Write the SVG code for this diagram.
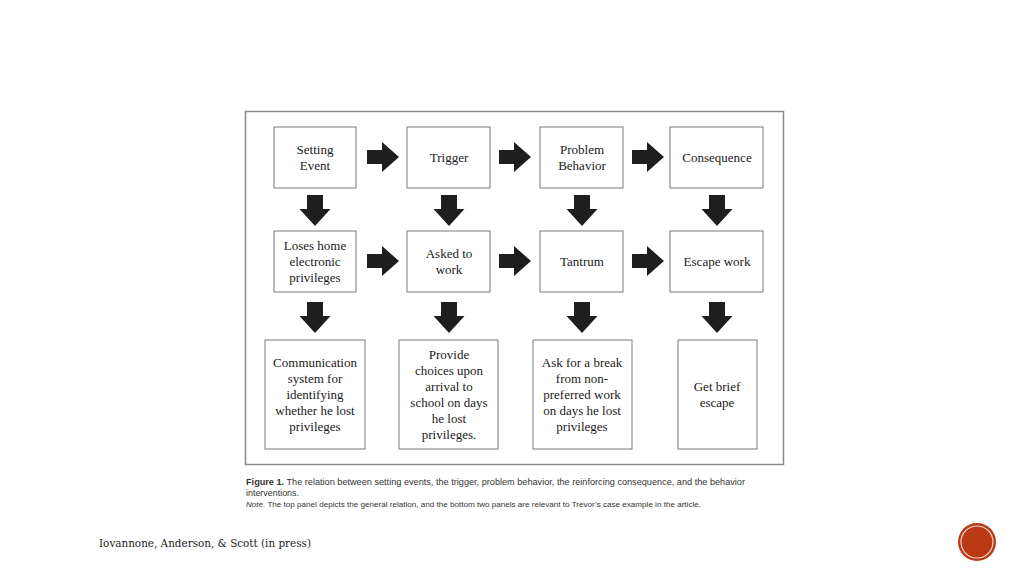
<svg xmlns="http://www.w3.org/2000/svg" width="1024" height="576" viewBox="0 0 1024 576">
<defs>
<style>
.box{fill:#fff;stroke:#7a7a7a;stroke-width:1}
.t{font-family:"Liberation Serif","Times New Roman",serif;font-size:13px;fill:#1a1a1a;text-anchor:middle}
.arr{fill:#1e1e1e}
.cap{font-family:"Liberation Sans",Arial,sans-serif;fill:#333}
</style>
<path id="rh" d="M0,-7 H15 V-15 L32,0 L15,15 V7 H0 Z"/>
<path id="dn" d="M-8,0 H8 V14 H15.5 L0,31 L-15.5,14 H-8 Z"/>
</defs>
<rect width="1024" height="576" fill="#fff"/>
<rect x="245.5" y="111.5" width="538" height="353" fill="#fff" stroke="#8a8a8a" stroke-width="1.5"/>

<g id="connectors" class="arr">
<use href="#rh" x="367" y="157"/>
<use href="#rh" x="499" y="157"/>
<use href="#rh" x="632" y="157"/>
<use href="#rh" x="367" y="261"/>
<use href="#rh" x="499" y="261"/>
<use href="#rh" x="632" y="261"/>
<use href="#dn" x="315" y="195"/>
<use href="#dn" x="449" y="195"/>
<use href="#dn" x="582" y="195"/>
<use href="#dn" x="717" y="195"/>
<use href="#dn" x="315" y="302"/>
<use href="#dn" x="449" y="302"/>
<use href="#dn" x="582" y="302"/>
<use href="#dn" x="717" y="302"/>
</g>

<g id="setting-event"><rect class="box" x="274" y="127" width="82" height="61"/>
<text class="t"><tspan x="315" y="153.5">Setting</tspan><tspan x="315" y="169.5">Event</tspan></text></g>
<g id="trigger"><rect class="box" x="407" y="127" width="83" height="61"/>
<text class="t" x="449" y="161.5">Trigger</text></g>
<g id="problem-behavior"><rect class="box" x="540" y="127" width="83" height="61"/>
<text class="t"><tspan x="582" y="153.5">Problem</tspan><tspan x="582" y="169.5">Behavior</tspan></text></g>
<g id="consequence"><rect class="box" x="670" y="127" width="93" height="61"/>
<text class="t" x="717" y="161.5">Consequence</text></g>

<g id="loses-home"><rect class="box" x="274" y="231" width="82" height="61"/>
<text class="t"><tspan x="315" y="249.5">Loses home</tspan><tspan x="315" y="265.5">electronic</tspan><tspan x="315" y="281.5">privileges</tspan></text></g>
<g id="asked-to-work"><rect class="box" x="407" y="231" width="83" height="61"/>
<text class="t"><tspan x="449" y="257.5">Asked to</tspan><tspan x="449" y="273.5">work</tspan></text></g>
<g id="tantrum"><rect class="box" x="540" y="231" width="83" height="61"/>
<text class="t" x="582" y="265.5">Tantrum</text></g>
<g id="escape-work"><rect class="box" x="670" y="231" width="93" height="61"/>
<text class="t" x="717" y="265.5">Escape work</text></g>

<g id="communication"><rect class="box" x="265" y="340" width="100" height="109"/>
<text class="t"><tspan x="315" y="366.5">Communication</tspan><tspan x="315" y="382.5">system for</tspan><tspan x="315" y="398.5">identifying</tspan><tspan x="315" y="414.5">whether he lost</tspan><tspan x="315" y="430.5">privileges</tspan></text></g>
<g id="provide-choices"><rect class="box" x="399" y="340" width="99" height="109"/>
<text class="t"><tspan x="449" y="358.5">Provide</tspan><tspan x="449" y="374.5">choices upon</tspan><tspan x="449" y="390.5">arrival to</tspan><tspan x="449" y="406.5">school on days</tspan><tspan x="449" y="422.5">he lost</tspan><tspan x="449" y="438.5">privileges.</tspan></text></g>
<g id="ask-break"><rect class="box" x="533" y="340" width="99" height="109"/>
<text class="t"><tspan x="582" y="366.5">Ask for a break</tspan><tspan x="582" y="382.5">from non-</tspan><tspan x="582" y="398.5">preferred work</tspan><tspan x="582" y="414.5">on days he lost</tspan><tspan x="582" y="430.5">privileges</tspan></text></g>
<g id="get-brief-escape"><rect class="box" x="678" y="340" width="79" height="109"/>
<text class="t"><tspan x="717" y="390.5">Get brief</tspan><tspan x="717" y="406.5">escape</tspan></text></g>

<text class="cap" x="246" y="485" font-size="8.6" textLength="499" lengthAdjust="spacingAndGlyphs"><tspan font-weight="bold">Figure 1.</tspan>  The relation between setting events, the trigger, problem behavior, the reinforcing consequence, and the behavior</text>
<text class="cap" x="246" y="496" font-size="8.6" textLength="53" lengthAdjust="spacingAndGlyphs">interventions.</text>
<text class="cap" x="246" y="507" font-size="7.4" textLength="455" lengthAdjust="spacingAndGlyphs"><tspan font-style="italic">Note.</tspan> The top panel depicts the general relation, and the bottom two panels are relevant to Trevor’s case example in the article.</text>

<text x="99" y="547" font-family="'DejaVu Serif','Liberation Serif',serif" font-size="10.5" fill="#222" textLength="212" lengthAdjust="spacingAndGlyphs">Iovannone, Anderson, &amp; Scott (in press)</text>

<circle cx="977" cy="542" r="19" fill="#bb3a16"/>
<circle cx="977" cy="542" r="16" fill="none" stroke="#f3d9cc" stroke-width="1.2"/>
</svg>
